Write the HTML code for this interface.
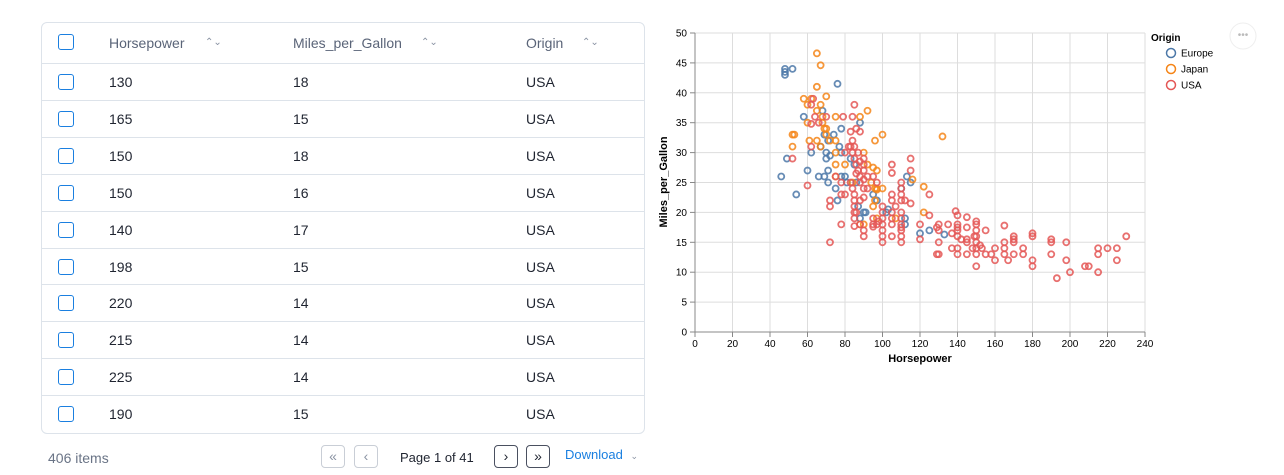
<!DOCTYPE html>
<html><head><meta charset="utf-8"><style>
body{margin:0;width:1284px;height:475px;background:#fff;font-family:"Liberation Sans",sans-serif;position:relative;overflow:hidden}
.tbl{position:absolute;left:41px;top:22px;width:604px;height:412px;border:1px solid #dde3ea;border-radius:6px;box-sizing:border-box}
.row{position:absolute;left:0;width:602px;height:37px;border-top:1px solid #dde3ea;font-size:14px;color:#1f2430}
.row span,.hd span{position:absolute;top:11px}
.hd{position:absolute;left:0;top:0;width:602px;height:41px;font-size:14px;color:#5a6478}
.cb{position:absolute;left:16px;width:14px;height:14px;border:1.5px solid #1a7fe0;border-radius:3px}
.sort{font-size:10px;color:#8a93a3}
.btn{position:absolute;top:445px;width:22px;height:21px;border:1px solid #c9ced6;border-radius:4px;font-size:14px;text-align:center;line-height:20px;color:#8a93a3}
.btn.d{border-color:#4a5060;color:#1f2430}
</style></head><body>
<div class="tbl">
<div class="hd"><div class="cb" style="top:11px"></div><span style="left:67px;top:12px">Horsepower</span><span class="sort" style="left:163px;top:14px">⌃⌄</span><span style="left:251px;top:12px">Miles_per_Gallon</span><span class="sort" style="left:379px;top:14px">⌃⌄</span><span style="left:484px;top:12px">Origin</span><span class="sort" style="left:540px;top:14px">⌃⌄</span></div>
<div id="rows"></div>
</div>
<div style="position:absolute;left:48px;top:450px;font-size:14px;color:#6a7486">406 items</div>
<div class="btn" style="left:321px">«</div><div class="btn" style="left:354px">‹</div>
<div style="position:absolute;left:400px;top:450px;font-size:13px;color:#1f2430">Page 1 of 41</div>
<div class="btn d" style="left:494px">›</div><div class="btn d" style="left:526px">»</div>
<div style="position:absolute;left:565px;top:447px;font-size:13px;color:#1a7fe0">Download <span style="font-size:9px;color:#8a93a3;margin-left:4px">⌄</span></div>
<svg style="position:absolute;left:0;top:0" width="1284" height="475" id="s"></svg>
<script>
var rows=[[130,18],[165,15],[150,18],[150,16],[140,17],[198,15],[220,14],[215,14],[225,14],[190,15]];
var h='';rows.forEach(function(r,i){h+='<div class="row" style="top:'+(40+i*36.9)+'px"><div class="cb" style="top:10px"></div><span style="left:67px;top:10px">'+r[0]+'</span><span style="left:251px;top:10px">'+r[1]+'</span><span style="left:484px;top:10px">USA</span></div>'});
document.getElementById('rows').innerHTML=h;
var X=function(v){return 695+v*1.875},Y=function(v){return 332-v*5.98};
var s='';
for(var v=0;v<=240;v+=20){s+='<line x1="'+X(v)+'" x2="'+X(v)+'" y1="33" y2="332" stroke="#ddd"/><line x1="'+X(v)+'" x2="'+X(v)+'" y1="332" y2="337" stroke="#888"/><text x="'+X(v)+'" y="347" font-size="10" text-anchor="middle" fill="#000">'+v+'</text>'}
for(var v=0;v<=50;v+=5){s+='<line x1="695" x2="1145" y1="'+Y(v)+'" y2="'+Y(v)+'" stroke="#ddd"/><line x1="690" x2="695" y1="'+Y(v)+'" y2="'+Y(v)+'" stroke="#888"/><text x="687" y="'+(Y(v)+3.5)+'" font-size="10" text-anchor="end">'+v+'</text>'}
s+='<line x1="695" x2="1145" y1="332" y2="332" stroke="#888"/><line x1="695" x2="695" y1="33" y2="332" stroke="#888"/>';
s+='<text x="920" y="362" font-size="11" font-weight="bold" text-anchor="middle">Horsepower</text><text transform="translate(667,182) rotate(-90)" font-size="11" font-weight="bold" text-anchor="middle">Miles_per_Gallon</text>';
var E=[[46,26],[48,44],[48,43],[48,43.5],[49,29],[52,44],[54,23],[58,36],[60,27],[62,30],[66,26],[67,31],[68,37],[69,26],[70,29],[70,30],[71,32],[71,27],[71,25],[72,29.5],[74,33],[75,24],[76,22],[76,41.5],[77,31],[78,34],[78,30],[78,26],[80,26],[81,25],[83,29],[85,28],[86,25],[87,21],[88,35],[88,19],[90,20],[91,20],[95,23],[97,22],[102,20],[103,20.5],[110,24],[112,19],[112,18],[113,26],[115,25],[120,16.5],[125,17],[133,16.3],[69,33]];
var J=[[65,46.6],[67,44.6],[65,41],[70,39.4],[58,39],[60,38],[67,38],[68,36],[75,36],[88,36],[92,37],[52,33],[53,33],[52,31],[60,35],[61,32],[65,32],[67,31],[69,34],[70,33],[75,30],[75,28],[75,26],[90,30],[96,32],[100,33],[132,32.7],[95,27.5],[97,27],[97,24],[100,24],[96,22],[95,21],[122,24.3],[116,25.5],[122,20],[107,19],[97,19],[90,18],[75,32],[72,32],[70,34],[68,35],[65,37],[62,39],[88,18],[92,28],[94,25],[96,24],[97,23.8],[80,28],[84,25]];
var U=[[52,29],[60,24.5],[62,31],[62,34.8],[62,38],[63,39],[64,36],[66,35],[70,36],[72,15],[72,21],[72,22],[78,18],[78,23],[79,36],[84,36],[85,38],[86,34],[83,33.5],[88,33.5],[84,32],[82,31],[85,31],[84,30],[85,29],[86,28],[87,27],[88,26],[90,28],[90,27],[92,26],[84,24],[85,23],[85,22],[85,21],[85,20],[85,19],[85,17.7],[86,20],[88,22],[90,24],[90,22.5],[88,18],[90,17],[90,16],[95,18],[95,17.6],[95,19],[97,18],[98,18.5],[100,21],[100,20],[100,19],[100,18],[100,17],[100,16],[100,15],[105,28],[105,26.6],[105,23],[105,22],[105,20],[105,19],[105,18],[105,16],[107,21],[110,25],[110,24],[110,23],[110,22],[110,20],[110,19],[110,18],[110,17.5],[110,17],[110,16],[110,15],[112,22],[115,29],[115,27],[115,21.5],[120,18],[120,15.5],[125,23],[125,19.5],[129,17.5],[130,18],[130,17],[130,15],[129,13],[130,13],[135,18],[137,16.5],[137,14],[139,20.2],[140,19.5],[140,18],[140,17.5],[140,17],[140,16],[140,14],[140,13],[142,15.5],[145,19.2],[145,17.5],[145,15.5],[145,15],[145,13],[148,14],[149,16],[150,18.5],[150,18],[150,17],[150,16],[150,15],[150,14],[150,13],[150,11],[152,14.5],[153,14],[155,17],[155,13],[158,13],[160,14],[160,12],[165,17.8],[165,15],[165,14],[165,13],[167,12],[170,16],[170,15.5],[170,15],[170,13],[175,14],[175,13],[180,16.5],[180,16],[180,12],[180,11],[190,15.5],[190,15],[190,13],[193,9],[198,15],[198,12],[200,10],[208,11],[210,11],[215,14],[215,13],[215,10],[220,14],[225,14],[225,12],[230,16],[97,25],[95,26],[88,25],[90,25.5],[92,24],[75,26],[78,25],[80,23],[83,25],[86,26.5],[88,28.5],[90,29],[87,30],[83,31],[80,30]];
[[E,'#4c78a8'],[J,'#f58518'],[U,'#e45756']].forEach(function(g){g[0].forEach(function(p){s+='<circle cx="'+X(p[0])+'" cy="'+Y(p[1])+'" r="3" fill="none" stroke="'+g[1]+'" stroke-width="1.8" opacity="0.85"/>'})});
s+='<text x="1151" y="41" font-size="10" font-weight="bold">Origin</text>';
[['Europe','#4c78a8'],['Japan','#f58518'],['USA','#e45756']].forEach(function(l,i){var y=53+i*16;s+='<circle cx="1171" cy="'+y+'" r="4.5" fill="none" stroke="'+l[1]+'" stroke-width="1.5"/><text x="1181" y="'+(y+3.5)+'" font-size="10">'+l[0]+'</text>'});
s+='<circle cx="1243" cy="36" r="13" fill="#fff" stroke="#eee"/><text x="1243" y="38" font-size="10" fill="#bbb" text-anchor="middle">•••</text>';
document.getElementById('s').innerHTML=s;
</script>
</body></html>
